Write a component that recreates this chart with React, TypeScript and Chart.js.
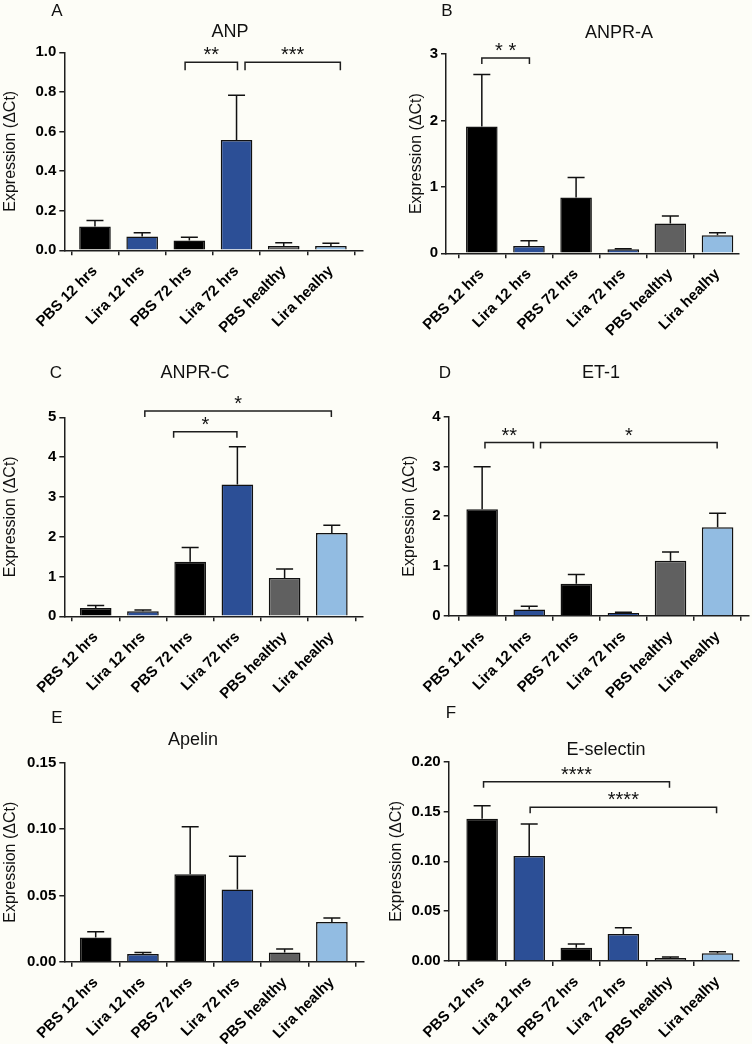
import React, { useEffect, useRef } from 'react';
import { Chart, registerables } from 'chart.js';

Chart.register(...registerables);

const FONT = '"Liberation Sans", Arial, Helvetica, sans-serif';
const BG = '#fdfdf7';
const AXIS = '#1e1e1e';

const CATEGORIES = ['PBS 12 hrs', 'Lira 12 hrs', 'PBS 72 hrs', 'Lira 72 hrs', 'PBS healthy', 'Lira healhy'];
const BAR_COLORS = ['#000000', '#2c4f96', '#000000', '#2c4f96', '#606060', '#92bce2'];
const Y_LABEL = 'Expression (\u0394Ct)';

// A: ANP
const ANP_MEAN = [0.12, 0.07, 0.05, 0.557, 0.022, 0.022];
const ANP_SEM = [0.03, 0.019, 0.016, 0.226, 0.016, 0.013];
// B: ANPR-A
const ANPRA_MEAN = [1.91, 0.11, 0.84, 0.06, 0.45, 0.27];
const ANPRA_SEM = [0.78, 0.08, 0.3, 0.01, 0.11, 0.04];
// C: ANPR-C
const ANPRC_MEAN = [0.21, 0.126, 1.37, 3.31, 0.96, 2.09];
const ANPRC_SEM = [0.06, 0.034, 0.36, 0.95, 0.23, 0.2];
// D: ET-1
const ET1_MEAN = [2.14, 0.127, 0.64, 0.054, 1.105, 1.78];
const ET1_SEM = [0.855, 0.063, 0.19, 0.013, 0.175, 0.28];
// E: Apelin
const APELIN_MEAN = [0.0183, 0.0058, 0.066, 0.0545, 0.007, 0.03];
const APELIN_SEM = [0.0043, 0.0012, 0.0358, 0.0249, 0.0025, 0.003];
// F: E-selectin
const ESEL_MEAN = [0.1428, 0.1054, 0.0134, 0.0271, 0.003, 0.0077];
const ESEL_SEM = [0.0131, 0.0321, 0.0036, 0.0063, 0.001, 0.0017];

// significance brackets: [from category, to category, y value, label]
type Bracket = [number, number, number, string];
const ANP_BRACKETS: Bracket[] = [[1.91, 3.02, 0.95, '**'], [3.18, 5.2, 0.95, '***']];
const ANPRA_BRACKETS: Bracket[] = [[0, 1.01, 2.94, '* *']];
const ANPRC_BRACKETS: Bracket[] = [[1.65, 2.99, 4.64, '*'], [1.04, 4.99, 5.16, '*']];
const ET1_BRACKETS: Bracket[] = [[0.06, 1.09, 3.48, '**'], [1.24, 4.99, 3.48, '*']];
const APELIN_BRACKETS: Bracket[] = [];
const ESEL_BRACKETS: Bracket[] = [[0.03, 3.98, 0.18, '****'], [1.02, 4.98, 0.1542, '****']];

interface Box { l: number; t: number; w: number; h: number }
interface Plot { l: number; r: number; t: number; b: number }
interface PanelSpec {
  letter: string;
  title: string;
  mean: number[];
  sem: number[];
  brackets: Bracket[];
  yMax: number;
  yStep: number;
  decimals: number;
  xMin: number;
  xMax: number;
  canvas: Box;
  plot: Plot;
  yLabelX: number;
  titleX: number;
  titleY: number;
  letterX: number;
  letterY: number;
  drop: number;
}

const PANELS: PanelSpec[] = [
  {
    letter: 'A', title: 'ANP', mean: ANP_MEAN, sem: ANP_SEM, brackets: ANP_BRACKETS,
    yMax: 1.0, yStep: 0.2, decimals: 1, xMin: -0.65, xMax: 5.68,
    canvas: { l: 0, t: 0, w: 376, h: 345 }, plot: { l: 64.3, r: 363, t: 52.3, b: 250.3 },
    yLabelX: 11, titleX: 230, titleY: 32, letterX: 57, letterY: 11, drop: 8,
  },
  {
    letter: 'B', title: 'ANPR-A', mean: ANPRA_MEAN, sem: ANPRA_SEM, brackets: ANPRA_BRACKETS,
    yMax: 3, yStep: 1, decimals: 0, xMin: -0.76, xMax: 5.45,
    canvas: { l: 376, t: 0, w: 376, h: 345 }, plot: { l: 446, r: 738.7, t: 54, b: 253.3 },
    yLabelX: 417, titleX: 619, titleY: 33, letterX: 447, letterY: 11, drop: 6,
  },
  {
    letter: 'C', title: 'ANPR-C', mean: ANPRC_MEAN, sem: ANPRC_SEM, brackets: ANPRC_BRACKETS,
    yMax: 5, yStep: 1, decimals: 0, xMin: -0.665, xMax: 5.66,
    canvas: { l: 0, t: 340, w: 376, h: 365 }, plot: { l: 64.3, r: 363, t: 417.3, b: 616.3 },
    yLabelX: 11, titleX: 195, titleY: 373, letterX: 56, letterY: 373, drop: 6,
  },
  {
    letter: 'D', title: 'ET-1', mean: ET1_MEAN, sem: ET1_SEM, brackets: ET1_BRACKETS,
    yMax: 4, yStep: 1, decimals: 0, xMin: -0.71, xMax: 5.66,
    canvas: { l: 376, t: 340, w: 376, h: 365 }, plot: { l: 448.7, r: 748.7, t: 416.7, b: 615.7 },
    yLabelX: 410, titleX: 601, titleY: 373, letterX: 445, letterY: 373, drop: 6,
  },
  {
    letter: 'E', title: 'Apelin', mean: APELIN_MEAN, sem: APELIN_SEM, brackets: APELIN_BRACKETS,
    yMax: 0.15, yStep: 0.05, decimals: 2, xMin: -0.665, xMax: 5.68,
    canvas: { l: 0, t: 690, w: 376, h: 354 }, plot: { l: 64.3, r: 364, t: 762.7, b: 961.7 },
    yLabelX: 11, titleX: 193, titleY: 740, letterX: 57, letterY: 718, drop: 6,
  },
  {
    letter: 'F', title: 'E-selectin', mean: ESEL_MEAN, sem: ESEL_SEM, brackets: ESEL_BRACKETS,
    yMax: 0.2, yStep: 0.05, decimals: 2, xMin: -0.71, xMax: 5.45,
    canvas: { l: 376, t: 690, w: 376, h: 354 }, plot: { l: 448.7, r: 738.7, t: 761.7, b: 961 },
    yLabelX: 397, titleX: 606, titleY: 750, letterX: 451, letterY: 713, drop: 6,
  },
];

const YW = 50;
const XH = 95;
const CAP = 17;

function Panel({ spec }: { spec: PanelSpec }) {
  const ref = useRef<HTMLCanvasElement>(null);
  useEffect(() => {
    const canvas = ref.current;
    if (!canvas) return;
    const c = spec.canvas;
    const p = spec.plot;
    const plugin = {
      id: 'overlay' + spec.letter,
      afterDatasetsDraw(chart: any) {
        const ctx = chart.ctx;
        const xs = chart.scales.x;
        const ys = chart.scales.y;
        ctx.save();
        ctx.strokeStyle = '#111';
        ctx.lineWidth = 1.5;
        spec.mean.forEach((m, i) => {
          const x = xs.getPixelForValue(i);
          const y0 = ys.getPixelForValue(m);
          const y1 = ys.getPixelForValue(m + spec.sem[i]);
          ctx.beginPath();
          ctx.moveTo(x, y0);
          ctx.lineTo(x, y1);
          ctx.moveTo(x - CAP / 2, y1);
          ctx.lineTo(x + CAP / 2, y1);
          ctx.stroke();
        });
        ctx.restore();
      },
      afterDraw(chart: any) {
        const ctx = chart.ctx;
        const xs = chart.scales.x;
        const ys = chart.scales.y;
        ctx.save();
        // brackets
        ctx.strokeStyle = AXIS;
        ctx.lineWidth = 1.5;
        ctx.fillStyle = '#111';
        ctx.font = `20px ${FONT}`;
        ctx.textAlign = 'center';
        ctx.textBaseline = 'alphabetic';
        spec.brackets.forEach(([from, to, yv, text]) => {
          const x1 = xs.getPixelForValue(from);
          const x2 = xs.getPixelForValue(to);
          const y = ys.getPixelForValue(yv);
          ctx.beginPath();
          ctx.moveTo(x1, y + spec.drop);
          ctx.lineTo(x1, y);
          ctx.lineTo(x2, y);
          ctx.lineTo(x2, y + spec.drop);
          ctx.stroke();
          ctx.fillText(text, (x1 + x2) / 2, y - 1);
        });
        // title and panel letter
        ctx.fillStyle = '#111';
        ctx.textBaseline = 'middle';
        ctx.font = `18px ${FONT}`;
        ctx.fillText(spec.title, spec.titleX - c.l, spec.titleY - c.t);
        ctx.font = `17px ${FONT}`;
        ctx.fillText(spec.letter, spec.letterX - c.l, spec.letterY - c.t);
        // y label
        ctx.font = `16px ${FONT}`;
        ctx.translate(spec.yLabelX - c.l, (chart.chartArea.top + chart.chartArea.bottom) / 2);
        ctx.rotate(-Math.PI / 2);
        ctx.fillText(Y_LABEL, 0, 0);
        ctx.restore();
      },
    };
    const gridOpts = {
      display: true,
      drawOnChartArea: false,
      drawTicks: true,
      tickLength: 5,
      color: AXIS,
      lineWidth: 1.5,
    };
    const borderOpts = { display: true, color: AXIS, width: 1.5 };
    const chart = new Chart(canvas, {
      type: 'bar',
      data: {
        datasets: [
          {
            data: spec.mean.map((v, i) => ({ x: i, y: v })),
            backgroundColor: BAR_COLORS,
            borderColor: '#111',
            borderWidth: 1.5,
            barPercentage: 0.67,
            categoryPercentage: 1,
          } as any,
        ],
      },
      options: {
        responsive: false,
        animation: false,
        devicePixelRatio: 1,
        events: [],
        layout: {
          padding: {
            left: p.l - c.l - YW,
            top: p.t - c.t,
            right: c.l + c.w - p.r,
            bottom: c.t + c.h - p.b - XH,
          },
        },
        plugins: {
          legend: { display: false },
          tooltip: { enabled: false },
          title: { display: false },
        },
        scales: {
          x: {
            type: 'linear',
            min: spec.xMin,
            max: spec.xMax,
            offset: false,
            afterFit: (s: any) => {
              s.height = XH;
            },
            afterBuildTicks: (s: any) => {
              s.ticks = CATEGORIES.map((_, i) => ({ value: i }));
            },
            ticks: {
              autoSkip: false,
              minRotation: 45,
              maxRotation: 45,
              includeBounds: false,
              stepSize: 1,
              padding: 7,
              color: '#000',
              font: { family: FONT, size: 15, weight: 'bold' },
              callback: (v: any) => CATEGORIES[Math.round(Number(v))] ?? '',
            },
            grid: gridOpts,
            border: borderOpts,
          } as any,
          y: {
            min: 0,
            max: spec.yMax,
            afterFit: (s: any) => {
              s.width = YW;
            },
            ticks: {
              stepSize: spec.yStep,
              padding: 3,
              color: '#000',
              font: { family: FONT, size: 15, weight: 'bold' },
              callback: (v: any) => Number(v).toFixed(spec.decimals),
            },
            grid: gridOpts,
            border: borderOpts,
          } as any,
        },
      },
      plugins: [plugin],
    } as any);
    return () => chart.destroy();
  }, [spec]);
  const c = spec.canvas;
  return (
    <canvas
      ref={ref}
      width={c.w}
      height={c.h}
      style={{ position: 'absolute', left: c.l, top: c.t, width: c.w, height: c.h }}
    />
  );
}

export default function App() {
  return (
    <div
      style={{
        position: 'absolute',
        left: 0,
        top: 0,
        width: 752,
        height: 1044,
        background: BG,
        overflow: 'hidden',
      }}
    >
      {PANELS.map((s) => (
        <Panel key={s.letter} spec={s} />
      ))}
    </div>
  );
}
